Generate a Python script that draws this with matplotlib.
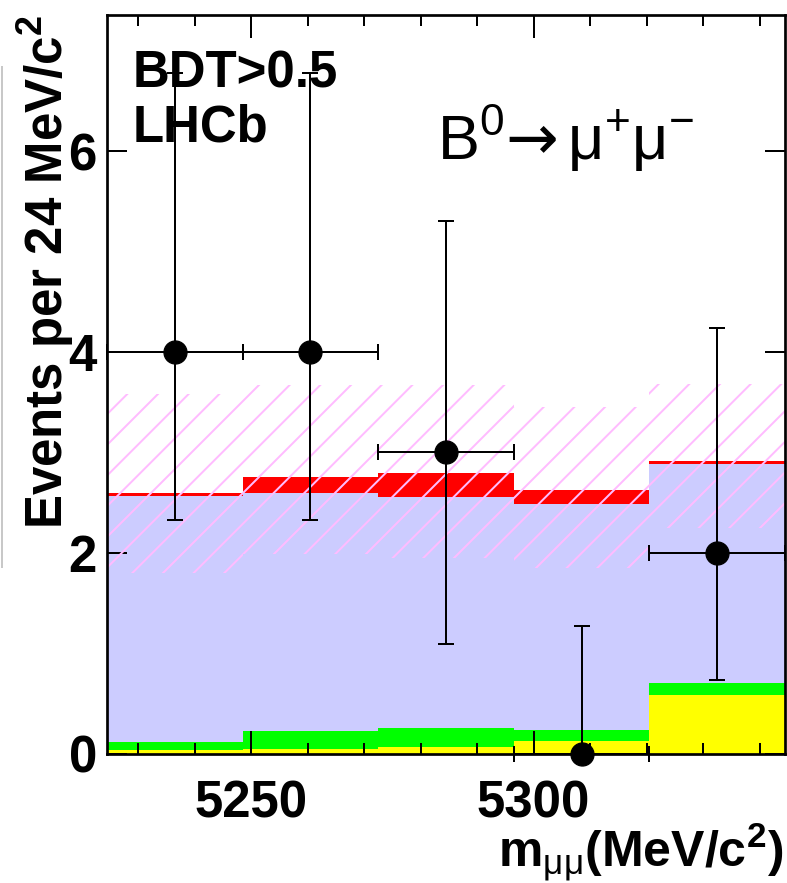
import matplotlib
matplotlib.use("Agg")
import matplotlib.pyplot as plt
import numpy as np
from matplotlib.lines import Line2D
from matplotlib.ticker import MultipleLocator, NullLocator

# canvas in pixels; the dpi also sets the spacing of the hatch pattern
W, H, DPI = 787, 883, 92

# binning of the dimuon mass (MeV/c^2)
bin_lo = np.array([5224.5, 5248.5, 5272.5, 5296.5, 5320.5])
bin_width = 24.0
x_range = (5224.5, 5344.5)
x_major = [5250, 5300]

# expected yields per bin, stacked bottom to top
bkg_peaking = np.array([0.037, 0.043, 0.063, 0.126, 0.58])   # yellow
bkg_misid = np.array([0.075, 0.186, 0.193, 0.113, 0.12])     # green
bkg_comb = np.array([2.452, 2.365, 2.301, 2.246, 2.18])      # lavender
sig_sm = np.array([0.033, 0.156, 0.233, 0.142, 0.035])       # red

# hatched uncertainty band on the total expectation
band_lo = np.array([1.80, 1.99, 1.95, 1.85, 2.25])
band_hi = np.array([3.58, 3.67, 3.67, 3.45, 3.68])

# observed candidates with their interval
n_obs = np.array([4, 4, 3, 0, 2], dtype=float)
n_lo = np.array([2.33, 2.33, 1.09, 0.0, 0.73])
n_hi = np.array([6.78, 6.78, 5.30, 1.27, 4.24])

y_ticks = [0, 2, 4, 6]
y_max = 7.355


def pt(px):
    return px * 72.0 / DPI


def fxy(x, y):
    return x / W, 1.0 - y / H


plt.rcParams.update({
    "font.family": ["Liberation Sans", "DejaVu Sans"],
    "mathtext.fontset": "custom",
    "mathtext.rm": "Liberation Sans",
    "mathtext.bf": "Liberation Sans:bold",
    "mathtext.it": "Liberation Sans:italic",
    "mathtext.sf": "DejaVu Sans",
    "mathtext.default": "regular",
    "hatch.linewidth": pt(2.0),
    "hatch.color": "#ffbcff",
})

fig = plt.figure(figsize=(W / DPI, H / DPI), dpi=DPI)
ax = fig.add_axes([107 / W, 1 - 753.5 / H, (785 - 107) / W, (753.5 - 15) / H])

# stacked expectation
bottom = np.zeros(len(bin_lo))
for vals, col in [(bkg_peaking, "#ffff00"), (bkg_misid, "#00ff00"),
                  (bkg_comb, "#ccccff"), (sig_sm, "#ff0000")]:
    ax.bar(bin_lo, vals, width=bin_width, bottom=bottom, align="edge",
           color=col, linewidth=0, zorder=1)
    bottom = bottom + vals

# hatched band
ax.bar(bin_lo, band_hi - band_lo, width=bin_width, bottom=band_lo, align="edge",
       facecolor="none", edgecolor="#ffbcff", linewidth=0, hatch="/", zorder=2)

# data
xc = bin_lo + bin_width / 2
ax.errorbar(xc, n_obs, xerr=bin_width / 2, yerr=[n_obs - n_lo, n_hi - n_obs],
            fmt="o", color="black", ms=pt(23), elinewidth=pt(2), capsize=pt(8),
            capthick=pt(2), zorder=5, clip_on=False)

ax.set_xlim(*x_range)
ax.set_ylim(0, y_max)
ax.set_xticks(x_major)
ax.xaxis.set_minor_locator(MultipleLocator(10))
ax.set_yticks(y_ticks)
ax.yaxis.set_minor_locator(NullLocator())

for s in ax.spines.values():
    s.set_linewidth(pt(2.7))
    s.set_zorder(4)

ax.tick_params(axis="both", which="both", direction="in", top=True, right=True,
               width=pt(2), color="black")
ax.tick_params(axis="x", which="major", length=pt(23), pad=pt(26))
ax.tick_params(axis="x", which="minor", length=pt(11))
ax.tick_params(axis="y", which="major", length=pt(20), pad=pt(10))
for lab in ax.get_xticklabels() + ax.get_yticklabels():
    lab.set_fontsize(pt(51))
    lab.set_fontweight("bold")

# annotations
fig.text(*fxy(133, 88), "BDT>0.5", fontsize=pt(51), fontweight="bold",
         ha="left", va="baseline")
fig.text(*fxy(133, 142), "LHCb", fontsize=pt(51), fontweight="bold",
         ha="left", va="baseline")
fig.text(*fxy(437, 160),
         r"$\mathrm{B}^{\mathrm{0}}\mathsf{→}\,\mathrm{\mu}^{+}\mathrm{\mu}^{-}$",
         fontsize=pt(63), ha="left", va="baseline")

# axis titles
fig.text(*fxy(63, 15), r"Events per 24 MeV/c$^{\mathbf{2}}$", fontsize=pt(51),
         fontweight="bold", rotation=90, rotation_mode="anchor",
         ha="right", va="baseline")
fig.text(*fxy(783, 866), r"m$_{\mathrm{\mu\mu}}$(MeV/c$^{\mathbf{2}}$)",
         fontsize=pt(50), fontweight="bold", ha="right", va="baseline")

fig.add_artist(Line2D([2 / W, 2 / W], [1 - 67 / H, 1 - 567 / H],
                      color="#c8c8c8", lw=pt(2)))

fig.savefig("out.png", dpi=DPI)
